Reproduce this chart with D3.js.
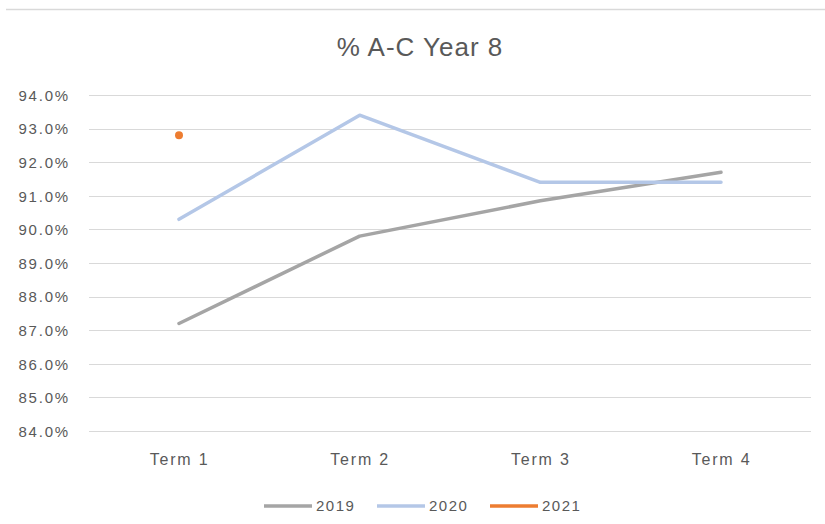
<!DOCTYPE html>
<html><head><meta charset="utf-8">
<script src="https://cdn.jsdelivr.net/npm/d3@7"></script>
<style>body{margin:0;background:#fff}svg{display:block}text{font-family:"Liberation Sans",Arial,sans-serif;fill:#595959}</style>
</head><body><svg id="c" width="825" height="524"></svg>
<script>
const categories = ["Term 1","Term 2","Term 3","Term 4"];
const s2019 = [87.2, 89.8, 90.85, 91.7];
const s2020 = [90.3, 93.4, 91.4, 91.4];
const s2021 = [92.8, null, null, null];
const seriesNames = ["2019","2020","2021"];
const seriesColors = ["#a5a5a5","#b4c7e7","#ed7d31"];
const yTicks = [84,85,86,87,88,89,90,91,92,93,94];

const svg = d3.select("#c");
svg.append("line").attr("x1",6).attr("x2",825).attr("y1",9.5).attr("y2",9.5).attr("stroke","#d9d9d9").attr("stroke-width",1.5);

const x = d3.scalePoint().domain(categories).range([179,721]);
const y = d3.scaleLinear().domain([84,94]).range([431,95]);

svg.append("text").attr("x",420).attr("y",56).attr("text-anchor","middle")
  .style("font-size","26px").style("letter-spacing","1px").text("% A-C Year 8");

const g = svg.append("g");
g.selectAll("line.grid").data(yTicks).enter().append("line")
  .attr("x1",89).attr("x2",811).attr("y1",d=>Math.round(y(d))+0.5).attr("y2",d=>Math.round(y(d))+0.5)
  .attr("stroke","#d9d9d9").attr("stroke-width",1);

const yAxis = d3.axisLeft(y).tickValues(yTicks).tickSize(0).tickPadding(0).tickFormat(d=>d.toFixed(1)+"%");
const ya = svg.append("g").attr("transform","translate(70,0)").call(yAxis);
ya.select(".domain").remove();
ya.selectAll("text").style("font-size","15px").style("letter-spacing","1.8px").attr("dy","0.35em").style("fill","#595959");

const xAxis = d3.axisBottom(x).tickSize(0).tickPadding(0);
const xa = svg.append("g").attr("transform","translate(0,454)").call(xAxis);
xa.select(".domain").remove();
xa.selectAll("text").style("font-size","16px").style("letter-spacing","1.8px").attr("dy","0.71em").style("fill","#595959");

const data = [s2019, s2020, s2021];
data.forEach((s,k)=>{
  const pts = s.map((v,i)=>({v,i})).filter(p=>p.v!=null);
  if (pts.length>1) {
    svg.append("path").attr("d", d3.line().x(p=>x(categories[p.i])).y(p=>y(p.v))(pts))
      .attr("fill","none").attr("stroke",seriesColors[k]).attr("stroke-width",3.5).attr("stroke-linejoin","round").attr("stroke-linecap","round");
  } else {
    pts.forEach(p=>svg.append("circle").attr("cx",x(categories[p.i])).attr("cy",y(p.v)).attr("r",4).attr("fill",seriesColors[k]));
  }
});

const legX = [264,377,490];
seriesNames.forEach((n,k)=>{
  svg.append("line").attr("x1",legX[k]).attr("x2",legX[k]+48).attr("y1",506).attr("y2",506)
    .attr("stroke",seriesColors[k]).attr("stroke-width",3.5);
  svg.append("text").attr("x",legX[k]+52).attr("y",506).attr("dy","0.35em").style("font-size","15px").style("letter-spacing","1.5px").text(n);
});
</script></body></html>
